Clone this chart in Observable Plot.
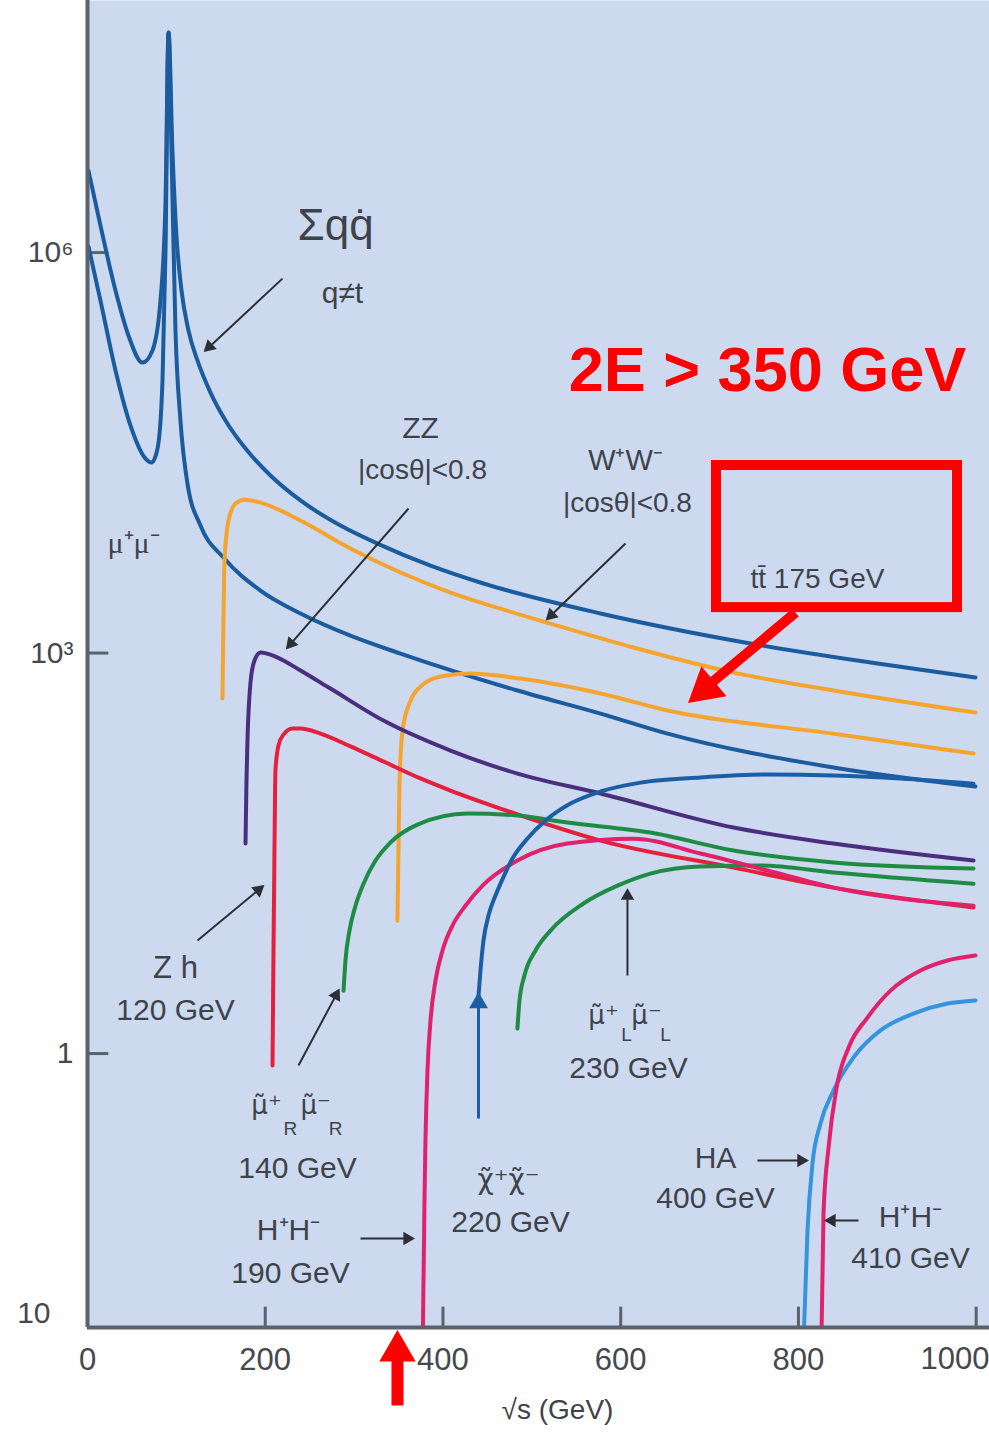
<!DOCTYPE html>
<html><head><meta charset="utf-8">
<script src="https://cdn.jsdelivr.net/npm/d3@7"></script>
<script src="https://cdn.jsdelivr.net/npm/@observablehq/plot@0.6"></script>
<style>body{margin:0;background:#fff;} svg{overflow:hidden;}</style>
</head><body><div id="chart"></div>
<script>
// ---- data (x: √s in GeV, y: cross-section, log axis) ----
const xTicks = [0, 200, 400, 600, 800];
const xLastTick = 1000;
const yTicks = [1, 1e3, 1e6];
const yTickLabels = ["1", "10³", "10⁶"];

const sumQQ_x = [1.1, 14.6, 31.5, 46.1, 61.9, 73.1, 82.1, 87.8, 91.2, 95.6, 100.1, 105.8, 113.6, 123.8, 138.4, 155.3, 177.8, 205.9, 239.7, 284.7, 326.3, 386.0, 445.6, 577.3, 746.0, 881.1, 999.2];
const sumQQ_y = [4.11e6, 1.59e6, 5.19e5, 2.39e5, 1.50e5, 1.85e5, 4.37e5, 2.45e6, 4.45e7, 5.81e6, 1.34e6, 5.19e5, 2.61e5, 1.55e5, 8.94e4, 5.52e4, 3.40e4, 2.14e4, 1.39e4, 9.02e3, 6.61e3, 4.52e3, 3.32e3, 1.98e3, 1.18e3, 849, 655];

const mumu_x = [1.1, 14.6, 31.5, 48.4, 65.3, 72.0, 78.8, 84.4, 87.8, 91.2, 94.5, 99.0, 104.6, 112.5, 127.1, 153.0, 194.6, 239.7, 295.9, 352.2, 483.8, 577.3, 652.7, 839.4, 999.2];
const mumu_y = [1.11e6, 4.37e5, 1.31e5, 5.06e4, 2.86e4, 2.67e4, 3.40e4, 1.10e5, 1.04e6, 4.45e7, 5.81e6, 2.61e5, 5.52e4, 1.86e4, 9.02e3, 5.19e3, 2.94e3, 1.98e3, 1.35e3, 991, 524, 352, 249, 139, 100];

const ww_x = [151.9, 153.0, 154.2, 158.7, 166.6, 176.7, 194.7, 239.7, 295.9, 352.2, 408.5, 464.7, 521.0, 614.4, 726.9, 839.4, 999.2];
const ww_y = [456, 1750, 4930, 9840, 1.32e4, 1.41e4, 1.34e4, 9840, 6070, 4010, 2840, 2150, 1660, 1100, 714, 524, 358];

const tt_x = [348.8, 349.9, 351.1, 354.5, 363.5, 374.7, 397.2, 431.0, 487.2, 577.3, 652.7, 839.4, 997.0];
const tt_y = [9.9, 33.1, 105, 262, 440, 561, 667, 702, 644, 498, 371, 249, 177];

const zz_x = [177.8, 178.9, 180.0, 183.4, 187.9, 194.7, 211.5, 239.7, 273.4, 333.1, 408.5, 483.8, 577.3, 726.9, 839.4, 997.0];
const zz_y = [37.4, 111, 221, 601, 879, 1010, 942, 740, 542, 312, 186, 125, 88.7, 49.3, 37.4, 27.9];

const zh_x = [208.2, 209.3, 210.4, 211.5, 214.9, 220.5, 230.7, 239.7, 262.2, 295.9, 333.1, 374.7, 408.5, 464.7, 577.3, 726.9, 839.4, 997.0];
const zh_y = [0.813, 5.90, 33.2, 132, 203, 245, 272, 272, 249, 200, 154, 115, 93.3, 68.4, 39.4, 24.7, 17.5, 12.4];

const muR_x = [288.1, 290.3, 294.8, 301.6, 310.6, 324.1, 340.9, 371.3, 427.6, 483.8, 540.1, 633.5, 726.9, 839.4, 997.0];
const muR_y = [2.96, 4.98, 8.34, 12.8, 18.7, 27.9, 38.1, 51.9, 62.8, 60.7, 53.7, 45.2, 33.2, 27.0, 24.3];

const muL_x = [483.8, 486.1, 491.7, 504.1, 521.0, 558.1, 596.4, 633.5, 689.8, 757.3, 839.4, 997.0];
const muL_y = [1.54, 2.49, 3.84, 5.91, 8.34, 13.3, 18.1, 22.3, 25.2, 25.6, 22.7, 18.7];

const hh190_x = [377.0, 379.2, 380.3, 382.6, 386.0, 391.6, 399.5, 410.7, 425.3, 445.6, 483.8, 540.1, 614.4, 689.8, 765.2, 839.4, 997.0];
const hh190_y = [0.005, 0.0792, 0.223, 0.746, 1.77, 3.52, 5.92, 9.10, 12.8, 18.4, 27.9, 37.4, 40.7, 31.5, 23.5, 17.5, 12.8];

const chi_x = [440.0, 442.2, 445.6, 451.2, 459.1, 464.7, 478.2, 495.1, 515.4, 543.5, 577.3, 622.3, 689.8, 765.2, 839.4, 914.8, 997.0];
const chi_y = [2.72, 4.19, 7.02, 10.8, 15.3, 18.7, 28.9, 40.8, 55.6, 74.6, 91.8, 107, 117, 123, 121, 115, 105];

const ha_x = [805.0, 810.2, 815.8, 824.8, 839.4, 861.9, 892.3, 929.5, 967.7, 999.2];
const ha_y = [0.005, 0.0472, 0.150, 0.299, 0.528, 0.933, 1.49, 1.99, 2.37, 2.50];

const hh410_x = [825.5, 828.2, 833.9, 842.9, 856.5, 877.7, 903.6, 937.3, 967.7, 999.2];
const hh410_y = [0.005, 0.0632, 0.198, 0.556, 1.11, 1.86, 2.96, 4.19, 4.98, 5.42];

const seriesNames = ["Σqq", "μμ", "WW", "tt", "ZZ", "Zh", "μRμR", "μLμL", "H+H- 190", "χχ", "HA", "H+H- 410"];
const seriesX = [sumQQ_x, mumu_x, ww_x, tt_x, zz_x, zh_x, muR_x, muL_x, hh190_x, chi_x, ha_x, hh410_x];
const seriesY = [sumQQ_y, mumu_y, ww_y, tt_y, zz_y, zh_y, muR_y, muL_y, hh190_y, chi_y, ha_y, hh410_y];
const seriesColor = ["#1b5c9f", "#1b5c9f", "#f5a52f", "#f5a52f", "#4a2f7e", "#e4203c", "#1f8c45", "#1f8c45", "#e0226c", "#1b5ea6", "#3594dc", "#e0226c"];

// ---- layout constants ----
const yMin = 0.00887, yMax = 7.73e7;
const BG = "#cdd9ef", AXIS = "#5a626e", TXT = "#3e434b", TICK = "#44484f", RED = "#ff0000", INK = "#2b2f36";
const SANS = "Liberation Sans, Arial, Helvetica, sans-serif";
const DJ = "DejaVu Sans, sans-serif";

const lineMarks = seriesNames.map((name, k) => {
  const rows = seriesX[k].map((x, i) => ({series: name, x, y: seriesY[k][i]}));
  return Plot.line(rows, {x: "x", y: "y", stroke: seriesColor[k], strokeWidth: 4, curve: "monotone-x", clip: true});
});

function label(text, x, y, o = {}) {
  return Plot.text([{x, y, text}], {x: "x", y: "y", text: "text", fill: TXT, fontSize: 29, fontFamily: SANS, ...o});
}
// arrow with a filled triangular head; angle = screen direction in degrees (0 = up, 90 = right)
function arrow(x1, y1, x2, y2, angle, color = INK, width = 2, r = 5) {
  const a = angle * Math.PI / 180, off = r * 1.05;
  return [
    Plot.link([{x1, y1, x2, y2}], {x1: "x1", y1: "y1", x2: "x2", y2: "y2", stroke: color, strokeWidth: width}),
    Plot.dot([{x: x2, y: y2}], {x: "x", y: "y", symbol: "triangle", r, fill: color, stroke: null, rotate: angle,
      dx: -off * Math.sin(a), dy: off * Math.cos(a)})
  ];
}

const chart = Plot.plot({
  width: 989, height: 1432,
  marginLeft: 87, marginRight: 0, marginTop: 0, marginBottom: 105,
  x: {domain: [0, 1015]},
  y: {type: "log", domain: [yMin, yMax]},
  style: {fontFamily: SANS, color: TXT, background: "white", overflow: "hidden"},
  marks: [
    Plot.frame({fill: BG, stroke: null}),
    // inner ticks
    Plot.ruleY(yTicks, {x1: 0, x2: 24, stroke: AXIS, strokeWidth: 3}),
    Plot.ruleX([...xTicks.slice(1), xLastTick], {y1: yMin, y2: 0.0126, stroke: AXIS, strokeWidth: 3}),
    Plot.axisX({ticks: xTicks, tickSize: 0, tickPadding: 20, fontSize: 31, label: null, fill: TICK}),
    label(String(xLastTick), 1015, yMin, {textAnchor: "end", dy: 32, fontSize: 31, fill: TICK}),
    Plot.axisY({ticks: yTicks, tickFormat: d => yTickLabels[yTicks.indexOf(d)], tickSize: 0, tickPadding: 14, fontSize: 30, label: null, fill: TICK}),
    label("10", 0, 0.01, {textAnchor: "end", dx: -37, dy: -7, fontSize: 30, fill: TICK}),
    label("√s (GeV)", 528.9, 0.00212, {fontSize: 28}),
    // curves
    ...lineMarks,
    // axis lines
    Plot.ruleX([0], {stroke: AXIS, strokeWidth: 4}),
    Plot.ruleY([yMin], {stroke: AXIS, strokeWidth: 4}),
    // annotations
    label("Σqq̇", 279.1, 1.59e6, {fontSize: 44}),
    label("q≠t", 286.9, 4.93e5, {fontSize: 30}),
    ...arrow(219.4, 6.38e5, 132.8, 1.85e5, 226.9),
    label("μ⁺μ⁻", 51.8, 6.61e3, {fontSize: 30, fontFamily: "Liberation Serif, serif"}),
    label("ZZ", 374.7, 4.81e4, {fontSize: 30}),
    label("|cosθ|<0.8", 377.0, 2.33e4, {fontSize: 28}),
    ...arrow(361.2, 1.21e4, 225.0, 1.10e3, 221.1),
    label("W⁺W⁻", 605.4, 2.77e4, {fontSize: 29}),
    label("|cosθ|<0.8", 607.6, 1.34e4, {fontSize: 28}),
    ...arrow(605.4, 6.61e3, 517.6, 1.81e3, 226.1),
    label("tt̄ 175 GeV", 821.4, 3.61e3, {fontSize: 28}),
    label("Z h", 99.0, 4.34, {fontSize: 31}),
    label("120 GeV", 99.0, 2.10, {fontSize: 30}),
    ...arrow(123.8, 7.02, 196.9, 17.8, 50.3),
    label("μ̃⁺", 201.4, 0.407, {fontSize: 26, fontFamily: DJ}),
    label("R", 228.4, 0.274, {fontSize: 19}),
    label("μ̃⁻", 256.6, 0.407, {fontSize: 26, fontFamily: DJ}),
    label("R", 279.1, 0.274, {fontSize: 19}),
    label("140 GeV", 236.3, 0.138, {fontSize: 30}),
    ...arrow(237.4, 0.813, 282.4, 2.96, 28.1),
    label("H⁺H⁻", 226.2, 0.0472, {fontSize: 30}),
    label("190 GeV", 228.4, 0.0225, {fontSize: 30}),
    ...arrow(307.2, 0.0411, 365.7, 0.0411, 90),
    label("χ̃⁺χ̃⁻", 473.7, 0.112, {fontSize: 28, fontFamily: DJ}),
    label("220 GeV", 476.0, 0.0542, {fontSize: 30}),
    ...arrow(440.0, 0.326, 440.0, 2.72, 0, "#1b5ea6", 3, 7),
    label("μ̃⁺", 580.6, 1.93, {fontSize: 26, fontFamily: DJ}),
    label("L", 606.5, 1.39, {fontSize: 19}),
    label("μ̃⁻", 629.0, 1.93, {fontSize: 26, fontFamily: DJ}),
    label("L", 650.4, 1.39, {fontSize: 19}),
    label("230 GeV", 608.8, 0.772, {fontSize: 30}),
    ...arrow(607.6, 3.84, 607.6, 16.6, 0),
    label("HA", 706.7, 0.163, {fontSize: 30}),
    label("400 GeV", 706.7, 0.082, {fontSize: 30}),
    ...arrow(753.9, 0.158, 809.0, 0.158, 90),
    label("H⁺H⁻", 926.1, 0.0591, {fontSize: 30}),
    label("410 GeV", 926.1, 0.0291, {fontSize: 30}),
    ...arrow(867.6, 0.0561, 831.6, 0.0561, 270),
    // red overlay
    label("2E > 350 GeV", 765.2, 1.31e5, {fontSize: 63, fontWeight: "bold", fill: RED}),
    Plot.rect([{x1: 707.8, x2: 979.0, y1: 2.19e3, y2: 2.54e4}], {x1: "x1", x2: "x2", y1: "y1", y2: "y2", fill: "none", stroke: RED, strokeWidth: 10}),
    Plot.link([{x1: 796.7, y1: 2.01e3, x2: 697, y2: 560}], {x1: "x1", y1: "y1", x2: "x2", y2: "y2", stroke: RED, strokeWidth: 10}),
    Plot.dot([{x: 695.2, y: 543}], {x: "x", y: "y", symbol: "triangle", r: 14.5, fill: RED, stroke: null, rotate: 230}),
    Plot.link([{x: 348.8, y1: 0.00231, y2: 0.00547}], {x1: "x", x2: "x", y1: "y1", y2: "y2", stroke: RED, strokeWidth: 12}),
    Plot.dot([{x: 348.8, y: 0.00591}], {x: "x", y: "y", symbol: "triangle", r: 13.5, fill: RED, stroke: null})
  ]
});
document.getElementById("chart").appendChild(chart);
</script>
</body></html>
